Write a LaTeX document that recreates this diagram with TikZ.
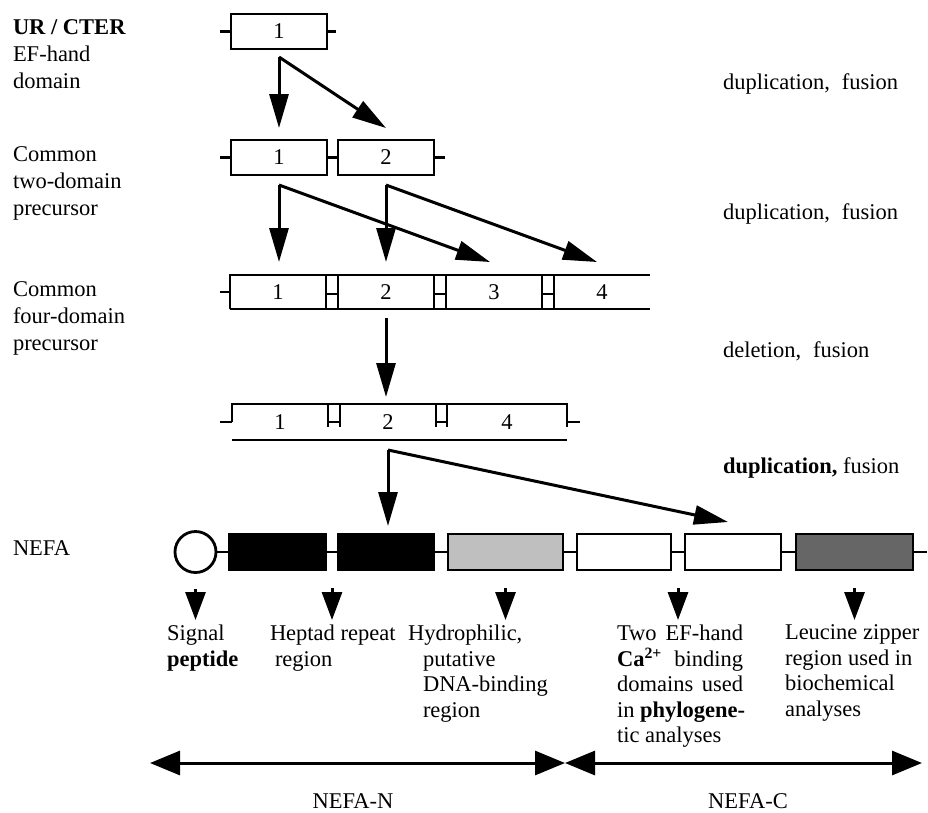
\documentclass[tikz,border=0pt]{standalone}
\usepackage{fontspec}
\setmainfont{Liberation Serif}
\usetikzlibrary{arrows.meta,positioning,calc}

\tikzset{
    efbox/.style={draw, minimum width=96pt, minimum height=35pt},
    slot/.style={minimum width=96pt, minimum height=34pt},
    nefa/.style={draw, line width=2.8pt, minimum height=36pt},
    side/.style={anchor=north west, align=left},
    note/.style={anchor=north west, align=left, font=\fontsize{22.5}{25.5}\selectfont},
    flow/.style={->, line width=3pt},
    pointer/.style={-{Triangle[length=28pt,width=20pt]}, line width=3pt},
    extent/.style={{Triangle[length=30pt,width=24pt]}-{Triangle[length=30pt,width=24pt]}, line width=3pt}
}

\begin{document}
\begin{tikzpicture}[
    x=1pt, y=-1pt,
    > = {Triangle[length=34pt,width=19pt]}, % arrow head style
    node distance=12pt,
    every node/.style={inner sep=0pt, outer sep=0pt, font=\fontsize{22.5}{27}\selectfont},
    line width=2.6pt % line style
]
\useasboundingbox (0,0) rectangle (928,812);

% Left labels
\node[side] (lab1) at (13,19.5) {\textbf{UR / CTER}\\EF-hand\\domain};
\node[side] (lab2) at (13,146.5) {Common\\two-domain\\precursor};
\node[side] (lab3) at (13,281.5) {Common\\four-domain\\precursor};
\node[anchor=base west] (lab4) at (13,555) {NEFA};

% Right labels
\node[anchor=base west] (op1) at (723,89) {duplication,\hspace{12pt}fusion};
\node[anchor=base west] (op2) at (723,219) {duplication,\hspace{12pt}fusion};
\node[anchor=base west] (op3) at (723,357) {deletion,\hspace{12pt}fusion};
\node[anchor=base west] (op4) at (723,473) {\textbf{duplication,} fusion};

% Row 1
\node[efbox] (u1) at (279,31.5) {1};
\draw (u1.west) -- ++(-11,0);
\draw (u1.east) -- ++(9,0);

% Row 2
\node[efbox] (t1) at (279,157.5) {1};
\node[efbox, right=11pt of t1] (t2) {2};
\draw (t1.west) -- ++(-11,0);
\draw (t1) -- (t2);
\draw (t2.east) -- ++(11,0);

% Row 3
\node[slot] (f1) at (278,292) {1};
\node[slot, right=of f1] (f2) {2};
\node[slot, right=of f2] (f3) {3};
\node[slot, right=of f3] (f4) {4};
\draw (f1.west) -- ++(-10,0);
\draw (f1.south west) -- (f1.north west) -- (f4.north east);
\draw (f1.south west) -- (f4.south east);
\draw (f1.north east) -- (f1.south east) (f2.north west) -- (f2.south west) ([yshift=-2pt]f1.east) -- ([yshift=-2pt]f2.west);
\draw (f2.north east) -- (f2.south east) (f3.north west) -- (f3.south west) ([yshift=-2pt]f2.east) -- ([yshift=-2pt]f3.west);
\draw (f3.north east) -- (f3.south east) (f4.north west) -- (f4.south west) ([yshift=-2pt]f3.east) -- ([yshift=-2pt]f4.west);

% Row 4
\node[slot, minimum height=36pt] (g1) at (280,422) {1};
\node[slot, minimum height=36pt, right=of g1] (g2) {2};
\node[slot, minimum height=36pt, minimum width=120pt, right=11pt of g2] (g4) {4};
\draw (g1.west) -- ++(-12,0);
\draw (g1.west) -- (g1.north west) -- (g4.north east) -- ([yshift=13pt]g4.south east);
\draw (g4.east) -- ++(13,0);
\draw (g1.south west) -- (g4.south east);
\draw (g1.north east) -- ([yshift=13pt]g1.south east) (g2.north west) -- ([yshift=13pt]g2.south west) (g1.east) -- (g2.west);
\draw (g2.north east) -- ([yshift=13pt]g2.south east) (g4.north west) -- ([yshift=13pt]g4.south west) (g2.east) -- (g4.west);

% NEFA
\node[circle, draw, line width=2.8pt, minimum size=41pt] (n1) at (195.5,552) {};
\node[nefa, fill=black, minimum width=97pt, right=13pt of n1] (n2) {};
\node[nefa, fill=black, minimum width=96pt, right=12pt of n2] (n3) {};
\node[nefa, fill=black!25, minimum width=115pt, right=14pt of n3] (n4) {};
\node[nefa, minimum width=94pt, right=14pt of n4] (n5) {};
\node[nefa, minimum width=96pt, right=14pt of n5] (n6) {};
\node[nefa, fill=black!60, minimum width=117pt, right=15pt of n6] (n7) {};
\draw[line width=2.8pt] (n1) -- (n2) (n2) -- (n3) (n3) -- (n4) (n4) -- (n5) (n5) -- (n6) (n6) -- (n7) (n7.east) -- ++(14,0);

% Edges
\coordinate[below=8pt of u1] (s1);
\draw[flow, shorten >=12pt] (s1) -- (s1 |- t1.north);
\draw[flow] (s1) -- ([yshift=12pt]t2.north);

\coordinate[below=10pt of t1] (s2);
\coordinate[below=10pt of t2] (s3);
\draw[flow, shorten >=13pt] (s2) -- (s2 |- f1.north);
\draw[flow] (s2) -- ([xshift=-4pt,yshift=13pt]f3.north);
\draw[flow, shorten >=13pt] (s3) -- (s3 |- f2.north);
\draw[flow] (s3) -- ([xshift=-5pt,yshift=13pt]f4.north);

\coordinate[below=9pt of f2] (s4);
\draw[flow, shorten >=7pt] (s4) -- (s4 |- g2.north);

\coordinate[below=10pt of g2] (s5);
\draw[flow, shorten >=8pt] (s5) -- (s5 |- n3.north);
\draw[flow] (s5) -- ([xshift=-5pt,yshift=12pt]n6.north);

% Region notes
\node[note] (sig) at (167,625) {Signal\\\textbf{peptide}};
\node[note] (hep) at (270,625) {Heptad repeat\\\hspace*{5pt}region};
\node[note] (hyd) at (408,625) {Hydrophilic,\\\hspace*{15pt}putative\\\hspace*{15pt}DNA-binding\\\hspace*{15pt}region};
\node[note] (two) at (617,625) {\makebox[126pt][s]{Two EF-hand}\\\makebox[126pt][s]{\textbf{Ca}\textsuperscript{\textbf{2+}} binding}\\\makebox[126pt][s]{domains used}\\in \textbf{phylogene-}\\tic analyses};
\node[note] (leu) at (785,625) {Leucine zipper\\region used in\\biochemical\\analyses};

\coordinate (hp) at ($(n2.south east)!.5!(n3.south west)$);
\coordinate (ep) at ($(n5.south east)!.5!(n6.south west)$);
\draw[pointer, shorten <=16pt, shorten >=5pt] (n1.south) -- (n1.south |- sig.north);
\draw[pointer, shorten <=18pt, shorten >=5pt] (hp) -- (hp |- hep.north);
\draw[pointer, shorten <=18pt, shorten >=5pt] (n4.south) -- (n4.south |- hyd.north);
\draw[pointer, shorten <=18pt, shorten >=5pt] (ep) -- (ep |- two.north);
\draw[pointer, shorten <=18pt, shorten >=5pt] (n7.south) -- (n7.south |- leu.north);

% NEFA-N / NEFA-C
\coordinate (nl) at (150,763);
\coordinate (nm) at (565,763);
\coordinate (nr) at (922,763);
\draw[extent] (nl) -- (nm);
\draw[extent] (nm) -- (nr);
\node[anchor=base] (nn) at (353,808) {NEFA-N};
\node[anchor=base] (nc) at (748,808) {NEFA-C};

\end{tikzpicture}
\end{document}
